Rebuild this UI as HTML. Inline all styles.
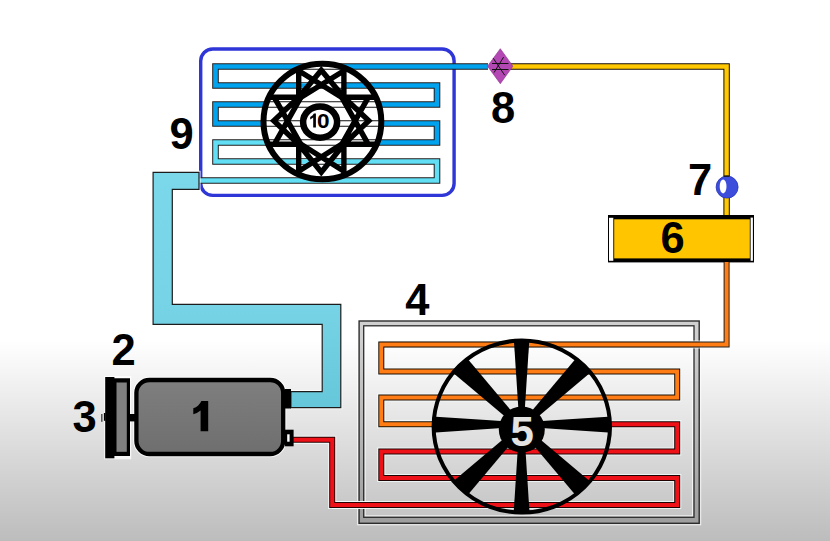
<!DOCTYPE html>
<html><head><meta charset="utf-8"><title>AC diagram</title>
<style>
html,body{margin:0;padding:0;background:#fff;}
svg{display:block;}
text{font-family:"Liberation Sans",sans-serif;}
</style></head>
<body>
<svg width="830" height="541" viewBox="0 0 830 541">
<defs>
  <linearGradient id="ov" x1="0" y1="340" x2="0" y2="541" gradientUnits="userSpaceOnUse">
    <stop offset="0" stop-color="#000" stop-opacity="0"/>
    <stop offset="1" stop-color="#000" stop-opacity="0.262"/>
  </linearGradient>

  <linearGradient id="suc" x1="0" y1="172" x2="0" y2="408" gradientUnits="userSpaceOnUse">
    <stop offset="0" stop-color="#7bd8ea"/>
    <stop offset="0.55" stop-color="#77d4e6"/>
    <stop offset="1" stop-color="#66c7da"/>
  </linearGradient>
  <linearGradient id="comp" x1="0" y1="378" x2="0" y2="456" gradientUnits="userSpaceOnUse">
    <stop offset="0" stop-color="#7f7f7f"/>
    <stop offset="1" stop-color="#6e6e6e"/>
  </linearGradient>
  <clipPath id="fan10clip"><ellipse cx="322.4" cy="121.5" rx="58.9" ry="57.8"/></clipPath>
  <clipPath id="fan5clip"><ellipse cx="521.8" cy="426.6" rx="89.5" ry="87.3"/></clipPath>
  <clipPath id="crossclip"><rect x="298.7" y="50" width="45.2" height="142"/><rect x="250" y="97.3" width="145" height="47"/></clipPath>
</defs>

<!-- background -->
<rect x="0" y="0" width="830" height="541" fill="#fff"/>
<rect x="0" y="340" width="830" height="201" fill="url(#ov)"/>

<!-- condenser frame (4) -->
<path d="M359.1,321 H699.2 V523.3 H359.1 Z M363.7,325.8 V517.3 H694 V325.8 Z" fill="#000" fill-opacity="0.19" fill-rule="evenodd"/>
<rect x="357.6" y="319.5" width="343.1" height="205.3" fill="none" stroke="#fff" stroke-opacity="0.75" stroke-width="1"/>
<rect x="365.2" y="327.3" width="327.3" height="188.5" fill="none" stroke="#fff" stroke-opacity="0.75" stroke-width="1"/>
<rect x="359.1" y="321" width="340.1" height="202.3" fill="none" stroke="#2c2c2c" stroke-width="1.4"/>
<rect x="363.7" y="325.8" width="330.3" height="191.5" fill="none" stroke="#2c2c2c" stroke-width="1.3"/>
<!-- evaporator border (9) -->
<rect x="200.7" y="49" width="253.4" height="146.4" rx="12" ry="12" fill="none" stroke="#2f36d8" stroke-width="3.4"/>

<!-- evaporator coil -->
<g fill="none" stroke-linejoin="miter" stroke-linecap="butt">
  <path d="M488 66.5 H215.5 V85.5 H437 V104.5 H215.5 V123.5 H437 V142.5 H320" stroke="#1e1e1e" stroke-width="6.6"/>
  <path d="M320 142.5 H215.5 V161.5 H437 V180.5 H175" stroke="#1e1e1e" stroke-width="6.6"/>
  <path d="M488 66.5 H215.5 V85.5 H437 V104.5 H215.5 V123.5 H437 V142.5 H320" stroke="#02a3ee" stroke-width="4.6"/>
  <path d="M321 142.5 H215.5 V161.5 H437 V180.5 H175" stroke="#62dff4" stroke-width="4.6"/>
</g>

<!-- fan 10 -->
<g clip-path="url(#fan10clip)"><g clip-path="url(#crossclip)">
  <rect x="255" y="55" width="140" height="135" fill="#fff"/>
  <path d="M488 66.5 H215.5 V85.5 H437 V104.5 H215.5 V123.5 H437 V142.5 H215.5 V161.5 H437 V180.5 H175" fill="none" stroke="#111" stroke-width="6.6"/>
  <path d="M488 66.5 H215.5 V85.5 H437 V104.5 H215.5 V123.5 H437 V142.5 H215.5 V161.5 H437 V180.5 H175" fill="none" stroke="#fff" stroke-width="4.6"/>
  <rect x="299" y="83.3" width="11" height="4.5" fill="#02a3ee"/>
  <rect x="299" y="159.3" width="10" height="4.5" fill="#62dff4"/>
  <rect x="334" y="159.3" width="10" height="4.5" fill="#62dff4"/>
</g></g>
<g clip-path="url(#fan10clip)"><g transform="translate(321.3 120.8)" fill="none" stroke="#000" stroke-width="5.4" stroke-linejoin="miter" stroke-miterlimit="10" stroke-linecap="butt">
  <path d="M-22.6,-58 V-23.5 M22.6,-58 V-23.5 M-22.6,-50 L22.6,-22 M22.6,-50 L-22.6,-22 M-22.6,-23.5 L0,-50.5 L22.6,-23.5"/>
  <path d="M-22.6,58 V23.5 M22.6,58 V23.5 M-22.6,50.5 L22.6,22 M22.6,50.5 L-22.6,22 M-22.6,23.5 L0,51.5 L22.6,23.5"/>
  <path d="M-60,-23.5 H-22.6 M-60,23.5 H-22.6 M-47,-23.5 L-20.5,23.5 M-47,23.5 L-20.5,-23.5 M-22.6,-23.5 L-47.5,0 L-22.6,23.5"/>
  <path d="M60,-23.5 H22.6 M60,23.5 H22.6 M47,-23.5 L20.5,23.5 M47,23.5 L20.5,-23.5 M22.6,-23.5 L47.5,0 L22.6,23.5"/>
</g></g>
<ellipse cx="322.4" cy="121.5" rx="58.9" ry="57.8" fill="none" stroke="#000" stroke-width="6"/>
<ellipse cx="320.1" cy="122.1" rx="17" ry="15.7" fill="#fff" stroke="#000" stroke-width="6.5"/>
<path d="M315.9,113.6 V127.5 H313.2 V117.6 Q311.9,118.8 310.2,119.4 V116.9 Q312.9,115.8 313.9,113.6 Z" fill="#000"/>
<text transform="translate(323.2 127.5) scale(1.16 1)" x="0" y="0" font-size="19.5" font-weight="bold" text-anchor="middle" fill="#000">0</text>

<!-- yellow line 8 -> 7 -> 6 -->
<g fill="none" stroke-linejoin="miter">
  <path d="M505 66.5 H726.6 V216" stroke="#140c00" stroke-width="6.4"/>
  <path d="M505 66.5 H726.6 V216" stroke="#ffc800" stroke-width="4.4"/>
</g>

<!-- valve 8 -->
<path d="M500.3 48.7 L512.9 66.2 L500.3 83.7 L487.5 66.2 Z" fill="#b347b3" stroke="#8e2f8e" stroke-width="0.6"/>
<g stroke="#111" stroke-width="1" fill="none">
  <path d="M492 63.5 H508.5 M492 69.5 H508.5 M493.2 58.2 L504.7 75.2 M503.6 57.1 L494 72.6"/>
</g>

<!-- 7 -->
<ellipse cx="727.1" cy="187.1" rx="11" ry="11" fill="#3c4ddc" stroke="#2a36b8" stroke-width="0.8"/>
<ellipse cx="723.1" cy="186.4" rx="3.4" ry="7" fill="#fff"/>
<rect x="723.9" y="175.4" width="5.5" height="1.4" fill="#111"/>

<!-- 6 -->
<rect x="608" y="215" width="146" height="47.4" fill="#000"/>
<rect x="609" y="217.8" width="4.3" height="43" fill="#fff"/>
<rect x="750.6" y="217.6" width="2.3" height="43.2" fill="#fff"/>
<rect x="614.2" y="219.3" width="135.6" height="39.1" fill="#ffc600"/>

<!-- orange line 6 -> condenser -->
<g fill="none" stroke-linejoin="miter">
  <path d="M726.6 262 V344.5 H380" stroke="#222" stroke-width="6"/>
  <path d="M726.6 262 V344.5 H380" stroke="#ff7d14" stroke-width="4"/>
</g>

<!-- condenser coil -->
<g fill="none" stroke-linejoin="miter">
  <path d="M700 344.5 H381.3 V371.5 H677.2 V397.5 H381.3 V424.2 H677.2 V451.5 H381.3 V478 H677.2 V505 H332" stroke="#f4ffff" stroke-opacity="0.75" stroke-width="8.2"/>
  <path d="M700 344.5 H381.3 V371.5 H677.2 V397.5 H381.3 V424.2 H520" stroke="#1e0f00" stroke-width="6"/>
  <path d="M520 424.2 H677.2 V451.5 H381.3 V478 H677.2 V505 H332" stroke="#200000" stroke-width="6"/>
  <path d="M700 344.5 H381.3 V371.5 H677.2 V397.5 H381.3 V424.2 H521" stroke="#ff7d14" stroke-width="4"/>
  <path d="M520 424.2 H677.2 V451.5 H381.3 V478 H677.2 V505 H332" stroke="#ee1118" stroke-width="4"/>
</g>

<!-- fan 5 -->
<g clip-path="url(#fan5clip)"><g transform="translate(521.6 424.6)" fill="#000">
  <polygon points="-3,-12 3,-12 8.2,-92 -8.2,-92" transform="rotate(0)"/>
  <polygon points="-3.6,-12 3.6,-12 10.5,-92 -10.5,-92" transform="translate(0 2.5) rotate(45)"/>
  <polygon points="-3,-12 3,-12 8.2,-92 -8.2,-92" transform="rotate(90)"/>
  <polygon points="-3.6,-12 3.6,-12 10.5,-92 -10.5,-92" transform="translate(0 2.5) rotate(135)"/>
  <polygon points="-3,-12 3,-12 8.2,-92 -8.2,-92" transform="rotate(180)"/>
  <polygon points="-3.6,-12 3.6,-12 10.5,-92 -10.5,-92" transform="translate(0 2.5) rotate(225)"/>
  <polygon points="-3,-12 3,-12 8.2,-92 -8.2,-92" transform="rotate(270)"/>
  <polygon points="-3.6,-12 3.6,-12 10.5,-92 -10.5,-92" transform="translate(0 2.5) rotate(315)"/>
</g></g>
<ellipse cx="521.8" cy="426.6" rx="88.2" ry="86" fill="none" stroke="#000" stroke-width="4"/>
<circle cx="521.8" cy="429.5" r="23" fill="#000"/>
<text x="522.3" y="445.5" font-size="42" font-weight="bold" text-anchor="middle" fill="#e3e3e3">5</text>

<!-- suction line (light blue wide) -->
<path d="M199,172.3 H153.1 V324.4 H322.2 V391.7 H290.9 V407.6 H340.8 V304.4 H172.3 V189.4 H199 Z" fill="none" stroke="#fff" stroke-opacity="0.8" stroke-width="3.2"/>
<path d="M199,172.3 H153.1 V324.4 H322.2 V391.7 H290.9 V407.6 H340.8 V304.4 H172.3 V189.4 H199 Z" fill="url(#suc)" stroke="#1c1c1c" stroke-width="1.2" stroke-linejoin="miter"/>

<!-- red discharge line -->
<g fill="none" stroke-linejoin="miter">
  <path d="M293 439.8 H332.2 V505 H370" stroke="#f4ffff" stroke-opacity="0.75" stroke-width="8.2"/>
  <path d="M293 439.8 H332.2 V505 H370" stroke="#2a0000" stroke-width="6"/>
  <path d="M293 439.8 H332.2 V505 H370" stroke="#ee1118" stroke-width="4"/>
</g>

<!-- compressor (1) -->
<rect x="136.4" y="380" width="146.8" height="74" rx="13" ry="13" fill="none" stroke="#fff" stroke-opacity="0.8" stroke-width="6.3"/>
<rect x="136.4" y="380" width="146.8" height="74" rx="13" ry="13" fill="url(#comp)" stroke="#000" stroke-width="4.3"/>
<rect x="285" y="389" width="6" height="19.5" fill="#000"/>
<rect x="285" y="429.7" width="8.6" height="16.6" fill="#000"/>
<rect x="287.2" y="434.3" width="2.4" height="7.4" fill="#fff"/>
<!-- pulley -->
<rect x="104.2" y="376" width="27" height="83.3" fill="#fff" fill-opacity="0.8"/>
<rect x="105.2" y="377" width="9.2" height="81.3" fill="#000"/>
<path d="M114 378.3 H130 V455.9 H114 Z" fill="#000"/>
<rect x="116.5" y="382.5" width="10.3" height="69.3" fill="#808080"/>
<rect x="130" y="414" width="6" height="7.4" fill="#000"/>
<rect x="103.9" y="413" width="1.6" height="7.8" fill="#000"/>
<rect x="101.3" y="414" width="1.1" height="7.8" fill="#1a1a1a"/>

<!-- labels -->
<path d="M208.2,401.1 V431.3 H200.6 V410.6 Q197.4,413.3 193.3,414.3 V408.2 Q196,407.3 198.2,405.4 Q200.4,403.4 201.4,401.1 Z" fill="#000"/>
<g font-size="43.5" font-weight="bold" fill="#000" text-anchor="middle">
  
  <text x="123.7" y="364.9">2</text>
  <text x="84.5" y="432.2">3</text>
  <text x="417.3" y="314.6">4</text>
  <text x="672.5" y="253.2">6</text>
  <text x="700" y="195.1">7</text>
  <text x="503" y="123.3">8</text>
  <text x="181.5" y="149.3">9</text>
</g>
</svg>
</body></html>
